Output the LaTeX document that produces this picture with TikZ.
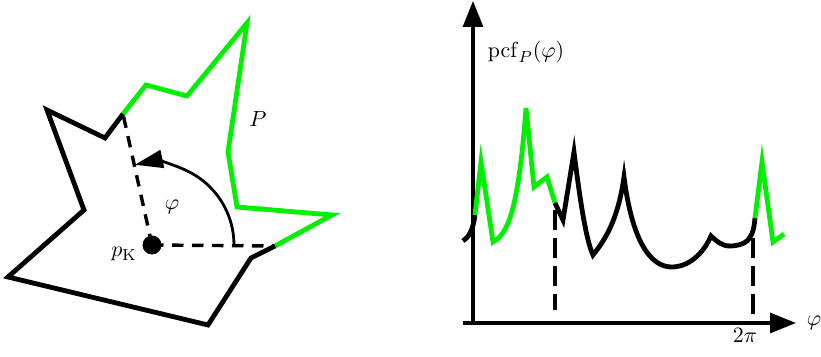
\documentclass[tikz,border=0pt]{standalone}
\usetikzlibrary{arrows.meta}
\definecolor{pgreen}{RGB}{0,240,0}
\tikzset{
  poly/.style={line width=2.4pt, miter limit=10},
  curve/.style={line width=2.4pt, miter limit=10},
  axis/.style={line width=1.6pt, -{Triangle[length=13pt,width=10pt]}},
  dashA/.style={line width=1.7pt, dash pattern=on 5.75pt off 4.25pt},
  dashB/.style={line width=1.6pt, dash pattern=on 10pt off 4pt},
  lab/.style={inner sep=0pt, font=\fontsize{11}{13}\selectfont},
}
\begin{document}
\begin{tikzpicture}[x=0.5pt,y=0.5pt]
\useasboundingbox (0,0) rectangle (821,357);
% ---------- left: polygon ----------
\coordinate (g0) at (123,243);
\coordinate (g1) at (146,272);
\coordinate (g2) at (187,261);
\coordinate (g3) at (247,334);
\coordinate (g4) at (228,205);
\coordinate (g5) at (237,150);
\coordinate (g6) at (332,142);
\coordinate (g7) at (275,111);
\coordinate (b1) at (251,99);
\coordinate (b2) at (208,32);
\coordinate (b3) at (8,80);
\coordinate (b4) at (84,147);
\coordinate (b5) at (47,247);
\coordinate (b6) at (105,219);
\coordinate (pk) at (152,112);
\coordinate (a0) at (234,112);

\draw[dashA] (pk) -- (g7);
\draw[dashA] (pk) -- (g0);
\draw[poly, pgreen] (g0) -- (g1) -- (g2) -- (g3) -- (g4) -- (g5) -- (g6) -- (g7);
\draw[poly, black] (g7) -- (b1) -- (b2) -- (b3) -- (b4) -- (b5) -- (b6) -- (g0);
\fill (pk) circle[radius=9.5];
\draw[line width=1.4pt, -{Triangle[length=14pt,width=9pt]}] (a0) arc[start angle=0, end angle=102, radius=82];
\node[lab, anchor=base] (lpk) at (124,100) {$p_{\mathrm{K}}$};
\node[lab, anchor=base] (lphi) at (172,147) {$\varphi$};
\node[lab, anchor=base] (lP) at (258,230) {$P$};

% ---------- right: plot ----------
\coordinate (yb) at (473,32);
\coordinate (yt) at (473,356);
\coordinate (xl) at (463,34);
\coordinate (xr) at (796,34);
\draw[axis] (yb) -- (yt);
\draw[axis] (xl) -- (xr);
\node[lab] (lpcf) at (526,305) {$\mathrm{pcf}_P(\varphi)$};
\node[lab, anchor=base] (l2pi) at (745,14) {$2\pi$};
\node[lab, anchor=base] (lxphi) at (814,31) {$\varphi$};

\coordinate (d1t) at (555,147);
\coordinate (d1b) at (555,47);
\coordinate (d2t) at (753,119);
\coordinate (d2b) at (753,34);
\draw[dashB] (d1t) -- (d1b);
\draw[dashB] (d2t) -- (d2b);

\coordinate (c0) at (463,116);
\coordinate (c1) at (475,142);
\coordinate (c2) at (555,154);
\coordinate (c3) at (755,139);
\draw[curve, black] (c0) .. controls (469,120) and (473,127) .. (c1);
\draw[curve, pgreen] (c1) -- (481,195) -- (493,115)
   .. controls (507,123) and (518,142) .. (526,249)
   -- (534,170) -- (547,180) -- (c2);
\draw[curve, black] (c2) -- (563,137) -- (574,205)
   .. controls (580,157) and (586,117) .. (593,102)
   .. controls (605,117) and (618,137) .. (624,180)
   .. controls (632,117) and (650,89) .. (673,90)
   .. controls (692,91) and (705,107) .. (711,121)
   .. controls (718,114) and (725,110) .. (732,111)
   .. controls (742,112) and (748,115) .. (750,120)
   .. controls (753,124) and (754,129) .. (c3);
\draw[curve, pgreen] (c3) -- (762,195) -- (773,115) -- (784,123);
\end{tikzpicture}
\end{document}
